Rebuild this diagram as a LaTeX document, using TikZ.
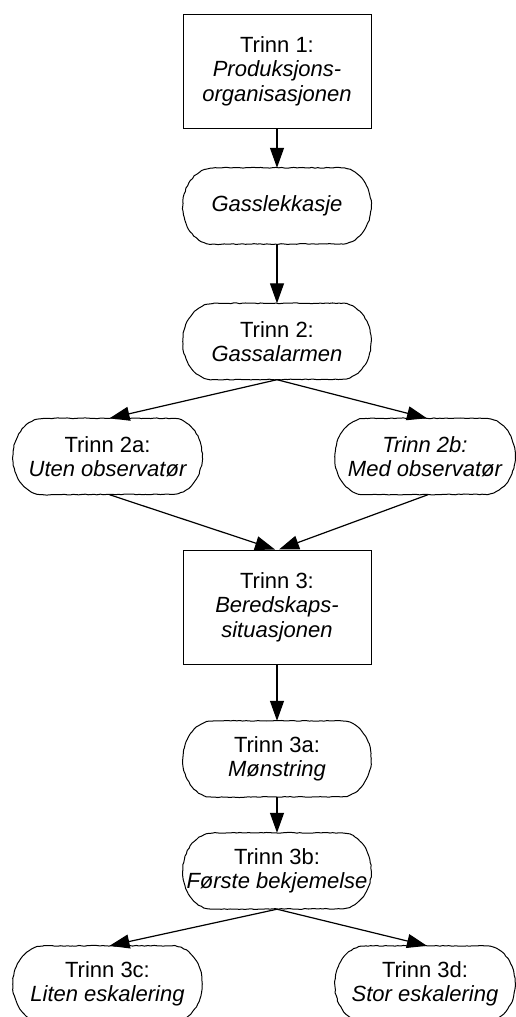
\documentclass[tikz,border=0pt]{standalone}
\usepackage{fontspec}
\setmainfont{Liberation Sans}
\usetikzlibrary{arrows.meta,decorations.pathmorphing}
% Wavy capsule outline around a named node
\newcommand{\capsule}[1]{%
  \draw[outline] ([xshift=30pt]#1.north west) -- ([xshift=-30pt]#1.north east)
    arc[start angle=90, end angle=-90, x radius=30pt, y radius=38pt]
    -- ([xshift=30pt]#1.south west)
    arc[start angle=270, end angle=90, x radius=30pt, y radius=38pt] -- cycle;}
\begin{document}
\begin{tikzpicture}[x=1pt,y=-1pt,
  every node/.style={font=\fontsize{22}{24.5}\selectfont, align=center, inner sep=0pt},
  stepbox/.style={draw, line width=1pt, minimum width=188pt, minimum height=114pt},
  term/.style={minimum height=76pt},
  outline/.style={line width=1pt, line join=round, decorate,
    decoration={random steps, segment length=3pt, amplitude=0.4pt}},
  flow/.style={line width=1.2pt, -{Triangle[length=20pt,width=14pt]}}]
\pgfmathsetseed{7}
\useasboundingbox (0,0) rectangle (516,1017);

\node[stepbox] (s1) at (277,71) {Trinn 1:\\\itshape Produksjons-\\\itshape organisasjonen};
\node[term, minimum width=188pt] (gass) at (277,206) {\itshape Gasslekkasje};
\node[term, minimum width=188pt] (s2) at (277,341.5) {Trinn 2:\\\itshape Gassalarmen};
\node[term, minimum width=189pt] (s2a) at (107.5,456.5) {Trinn 2a:\\\itshape Uten observatør};
\node[term, minimum width=180pt] (s2b) at (425,456.5) {\itshape Trinn 2b:\\\itshape Med observatør};
\node[stepbox] (s3) at (277,607) {Trinn 3:\\\itshape Beredskaps-\\\itshape situasjonen};
\node[term, minimum width=188pt] (s3a) at (277,759) {Trinn 3a:\\\itshape Mønstring};
\node[term, minimum width=188pt] (s3b) at (277,871) {Trinn 3b:\\\itshape Første bekjemelse};
\node[term, minimum width=189pt] (s3c) at (107.5,984) {Trinn 3c:\\\itshape Liten eskalering};
\node[term, minimum width=180pt] (s3d) at (425,984) {Trinn 3d:\\\itshape Stor eskalering};

\foreach \n in {gass,s2,s2a,s2b,s3a,s3b,s3c,s3d} {\capsule{\n}}

\draw[flow] (s1.south) -- (gass.north);
\draw[flow] (gass.south) -- (s2.north);
\draw[flow] (s2.south) -- ([xshift=2pt]s2a.north);
\draw[flow] (s2.south) -- ([xshift=2pt]s2b.north);
\draw[flow] ([xshift=2pt]s2a.south) -- ([xshift=-2pt]s3.north);
\draw[flow] ([xshift=3pt]s2b.south) -- ([xshift=2pt]s3.north);
\draw[flow] (s3.south) -- (s3a.north);
\draw[flow] (s3a.south) -- (s3b.north);
\draw[flow] (s3b.south) -- ([xshift=2pt]s3c.north);
\draw[flow] (s3b.south) -- ([xshift=2pt]s3d.north);
\end{tikzpicture}
\end{document}
